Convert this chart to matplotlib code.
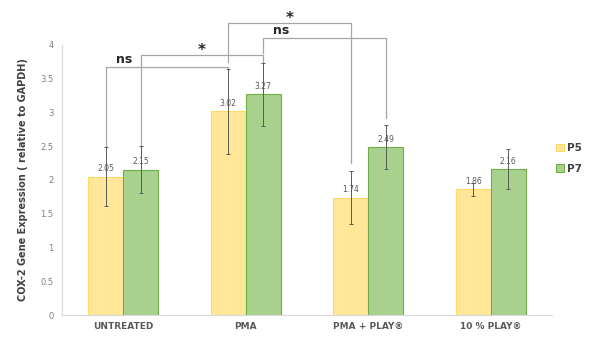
import matplotlib.pyplot as plt
import numpy as np

categories = ["UNTREATED", "PMA", "PMA + PLAY®", "10 % PLAY®"]
p5_values = [2.05, 3.02, 1.74, 1.86]
p7_values = [2.15, 3.27, 2.49, 2.16]
p5_errors = [0.44, 0.63, 0.39, 0.10]
p7_errors = [0.35, 0.47, 0.33, 0.30]

# brackets: (group_a, series_a, group_b, series_b, height, label, leg_a_bottom, leg_b_bottom)
brackets = [
    (0, 0, 1, 0, 3.67, "ns", 2.50, 3.66),
    (0, 1, 1, 1, 3.85, "*", 2.50, 3.75),
    (1, 0, 2, 0, 4.33, "*", 3.75, 2.25),
    (1, 1, 2, 1, 4.10, "ns", 3.88, 2.92),
]

fig = plt.figure(figsize=(6, 3.38), dpi=100)
ax = fig.add_axes([0.103, 0.068, 0.817, 0.799])

x = np.arange(len(categories))
w = 0.286
offsets = [-w / 2, w / 2]

ax.bar(x - w / 2, p5_values, w, color="#FFE699", edgecolor="#FFD966", linewidth=0.8, label="P5", zorder=2)
ax.bar(x + w / 2, p7_values, w, color="#A9D18E", edgecolor="#70AD47", linewidth=0.8, label="P7", zorder=2)
ax.errorbar(x - w / 2, p5_values, yerr=p5_errors, fmt="none", ecolor="#595959", elinewidth=0.7, capsize=1.2, capthick=0.7, zorder=3)
ax.errorbar(x + w / 2, p7_values, yerr=p7_errors, fmt="none", ecolor="#595959", elinewidth=0.7, capsize=1.2, capthick=0.7, zorder=3)

for xi, v in zip(x - w / 2, p5_values):
    ax.text(xi, v + 0.05, f"{v:.2f}", ha="center", va="bottom", fontsize=5.5, color="#595959", zorder=4)
for xi, v in zip(x + w / 2, p7_values):
    ax.text(xi, v + 0.05, f"{v:.2f}", ha="center", va="bottom", fontsize=5.5, color="#595959", zorder=4)

for ga, sa, gb, sb, h, lab, ya, yb in brackets:
    xa = x[ga] + offsets[sa]
    xb = x[gb] + offsets[sb]
    ax.plot([xa, xa, xb, xb], [ya, h, h, yb], color="#A6A6A6", linewidth=0.9, clip_on=False, zorder=1)
    if lab == "ns":
        ax.text(xa + 0.15, h + 0.02, lab, ha="center", va="bottom", fontsize=9, fontweight="bold", color="#262626")
    else:
        ax.text((xa + xb) / 2, h - 0.05, lab, ha="center", va="bottom", fontsize=11, fontweight="bold", color="#262626")

ax.set_xlim(-0.5, 3.5)
ax.set_ylim(0, 4)
ax.set_yticks(np.arange(0, 4.01, 0.5))
ax.set_yticklabels(["0", "0.5", "1", "1.5", "2", "2.5", "3", "3.5", "4"])
ax.set_xticks(x)
ax.set_xticklabels(categories, fontsize=6.5, fontweight="bold", color="#595959")
ax.tick_params(axis="y", length=0, labelsize=6, labelcolor="#808080", pad=6)
ax.tick_params(axis="x", length=0, pad=5)
for s in ["top", "right"]:
    ax.spines[s].set_visible(False)
ax.spines["left"].set_color("#D9D9D9")
ax.spines["bottom"].set_color("#D9D9D9")
ax.set_ylabel("COX-2 Gene Expression ( relative to GAPDH)", fontsize=7, fontweight="bold", color="#404040", labelpad=9)

ax.legend(loc="center left", bbox_to_anchor=(0.99, 0.58), frameon=False,
          prop={"weight": "bold", "size": 7.5}, handlelength=0.7, handleheight=0.7,
          handletextpad=0.3, labelspacing=1.0, labelcolor="#404040")

fig.savefig("out.png", dpi=100)
